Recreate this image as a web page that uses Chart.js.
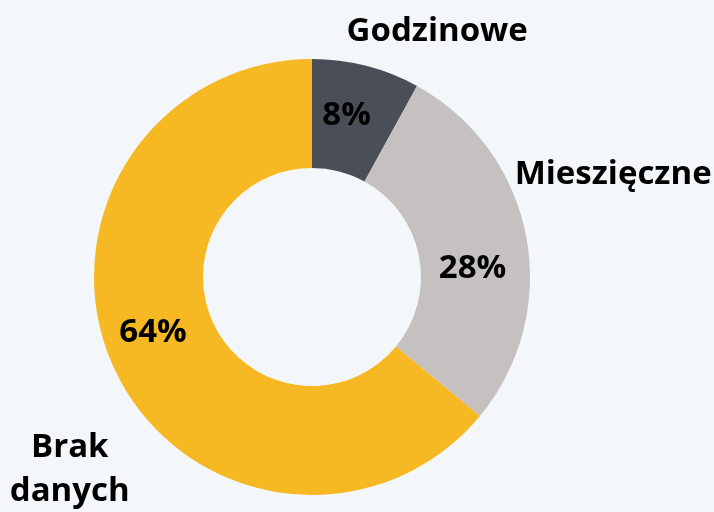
<!DOCTYPE html>
<html>
<head>
<meta charset="utf-8">
<script src="https://cdn.jsdelivr.net/npm/chart.js@4"></script>
<style>
  html, body { margin: 0; padding: 0; background: #f4f7fa; }
  #wrap { width: 714px; height: 512px; }
</style>
</head>
<body>
<div id="wrap"><canvas id="chart"></canvas></div>
<script>
const categories = ['Godzinowe', 'Mieszięczne', 'Brak danych'];
const shares = [8, 28, 64];
const colors = ['#4a4f57', '#c5c1c0', '#f6b924'];

// nudges for the labels, relative to the slice's mid points
const innerShift = [[-6, -3], [0, 22], [-11, -14]];
const outerShift = [[71, -34], [87, -62], [-45, 100]];

const sliceLabels = {
    id: 'sliceLabels',
    afterDatasetsDraw(chart) {
        const ctx = chart.ctx;
        const meta = chart.getDatasetMeta(0);
        ctx.save();
        ctx.fillStyle = '#000';
        ctx.textAlign = 'center';
        ctx.textBaseline = 'middle';
        ctx.font = 'bold 33px "Open Sans"';
        meta.data.forEach((arc, i) => {
            const mid = (arc.startAngle + arc.endAngle) / 2;
            const r = (arc.innerRadius + arc.outerRadius) / 2;
            ctx.fillText(shares[i] + '%',
                arc.x + Math.cos(mid) * r + innerShift[i][0],
                arc.y + Math.sin(mid) * r + innerShift[i][1]);

            const ox = arc.x + Math.cos(mid) * arc.outerRadius + outerShift[i][0];
            const oy = arc.y + Math.sin(mid) * arc.outerRadius + outerShift[i][1];
            const lines = categories[i] === 'Brak danych' ? ['Brak', 'danych'] : [categories[i]];
            lines.forEach((t, j) => {
                ctx.fillText(t, ox, oy + (j - (lines.length - 1) / 2) * 44);
            });
        });
        ctx.restore();
    }
};

new Chart(document.getElementById('chart'), {
    type: 'doughnut',
    data: {
        labels: categories,
        datasets: [{
            data: shares,
            backgroundColor: colors,
            borderWidth: 0,
        }]
    },
    options: {
        responsive: true,
        maintainAspectRatio: false,
        animation: false,
        cutout: '50%',
        layout: {
            padding: { left: 94, right: 184, top: 59, bottom: 17 }
        },
        plugins: {
            legend: { display: false },
            tooltip: { enabled: false },
        }
    },
    plugins: [sliceLabels]
});
</script>
</body>
</html>
